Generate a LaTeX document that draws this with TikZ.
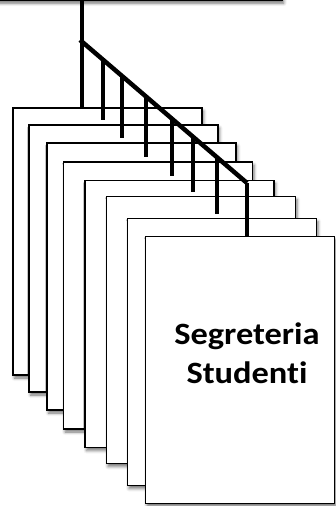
\documentclass[tikz,border=0pt]{standalone}
\usepackage{fontspec}
\setsansfont{Carlito}[Ligatures=CommonOff]
\usetikzlibrary{calc, shadows.blur}
\tikzstyle{sheet} = [rectangle,
minimum width=189pt,
minimum height=267pt,
draw=black,
line width=1.5pt,
fill=white,
blur shadow={shadow xshift=1.5pt, shadow yshift=-3pt, shadow blur radius=3pt, shadow opacity=55}]
\tikzstyle{wire} = [line width=4.5pt]

\begin{document}
\begin{tikzpicture}

				% page size of the reference
				\useasboundingbox (0,0) rectangle (335pt,-506pt);

				% upper box, only its bottom edge shows
				\node[sheet, minimum width=300pt, minimum height=40pt, anchor=south east] (office) at (283pt,-1pt) {};

				\node[sheet] (s1) at (107.5pt,-241.5pt) {};
				\node[sheet] (s2) at ([xshift=16pt, yshift=-17pt]s1.center) {};
				\node[sheet] (s3) at ([xshift=18pt, yshift=-18pt]s2.center) {};
				\node[sheet] (s4) at ([xshift=16.5pt, yshift=-19pt]s3.center) {};
				\node[sheet] (s5) at ([xshift=21.5pt, yshift=-18.5pt]s4.center) {};
				\node[sheet] (s6) at ([xshift=21.5pt, yshift=-16pt]s5.center) {};
				\node[sheet] (s7) at ([xshift=21pt, yshift=-22pt]s6.center) {};
				\node[sheet] (s8) at ([xshift=18pt, yshift=-18pt]s7.center) {};
				\node[font=\sffamily\bfseries\fontsize{31}{39}\selectfont, align=center, xscale=1.11, transform shape] (name) at ([xshift=7pt, yshift=17pt]s8.center) {Segreteria\\Studenti};

				% Edges
				\coordinate (fork) at (82pt,-40pt);
				\coordinate (forkend) at (247pt,-183pt);
				\draw[wire] (office.south -| fork) -- (s1.north -| fork);
				\foreach \n/\x in {2/103, 3/122, 4/146, 5/172, 6/193, 7/217}
				\draw[wire, shorten >=4pt] ($(fork)!{(\x-82)/165}!(forkend)$) coordinate (t\n) -- (t\n |- s\n.north);
				\draw[wire] (forkend) -- (forkend |- s8.north);
				\draw[wire] ([xshift=-2pt]fork) -- (forkend);

\end{tikzpicture}
\end{document}
